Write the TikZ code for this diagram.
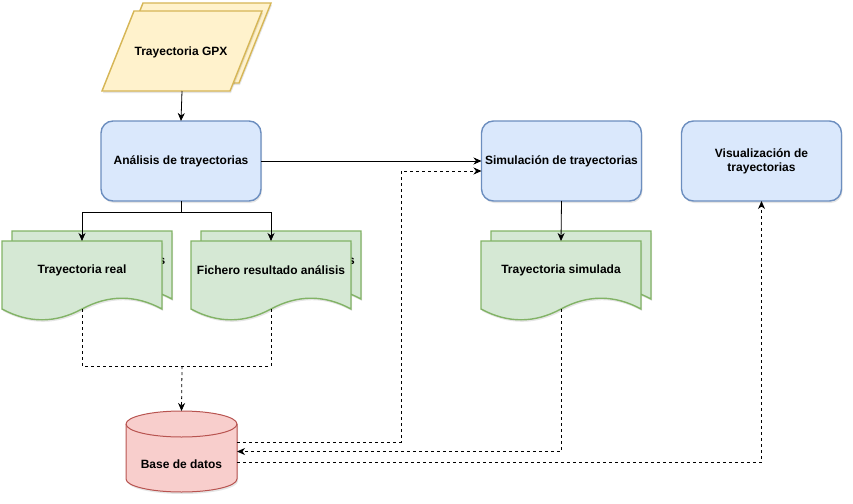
\documentclass[tikz,border=0pt]{standalone}
\usepackage{fontspec}
\setmainfont{Liberation Sans}
\usetikzlibrary{arrows.meta,shadows}
\definecolor{yfill}{HTML}{FFF2CC}
\definecolor{ystroke}{HTML}{D6B656}
\definecolor{bfill}{HTML}{DAE8FC}
\definecolor{bstroke}{HTML}{6C8EBF}
\definecolor{gfill}{HTML}{D5E8D4}
\definecolor{gstroke}{HTML}{82B366}
\definecolor{rfill}{HTML}{F8CECC}
\definecolor{rstroke}{HTML}{B85450}
\tikzset{
  shadowed/.style={drop shadow={shadow xshift=1pt,shadow yshift=-2pt,opacity=0.1,fill=black}},
  boxnode/.style={rectangle, rounded corners=12pt, draw=bstroke, fill=bfill, line width=1.4pt,
    minimum width=160pt, minimum height=80pt, inner sep=0pt, outer sep=0pt,
    font=\bfseries\fontsize{12}{14}\selectfont, align=center, shadowed},
  frame/.style={rectangle, inner sep=0pt, outer sep=0pt, minimum width=160pt, minimum height=80pt},
  lbl/.style={font=\bfseries\fontsize{12}{14}\selectfont, inner sep=0pt, align=center},
  gpxshape/.style={draw=ystroke, fill=yfill, line width=1.4pt, shadowed},
  docshape/.style={draw=gstroke, fill=gfill, line width=1.4pt, shadowed},
  dbshape/.style={draw=rstroke, fill=rfill, line width=1pt, shadowed},
  conn/.style={draw=black, line width=0.8pt},
  arr/.style={-{Stealth[length=8pt,width=7pt,inset=2.5pt]}},
  dsh/.style={dash pattern=on 3pt off 3pt}
}
\newcommand{\docpath}[3]{%
  \path[#3, shift={(#1,#2)}] (0,0) -- (160,0) -- (160,68)
    .. controls (133.33,53.6) and (106.67,53.6) .. (80,68)
    .. controls (53.33,82.4) and (26.67,82.4) .. (0,68) -- cycle;}
\begin{document}
\begin{tikzpicture}[x=1pt,y=-1pt]
\useasboundingbox (0,0) rectangle (853,503);

% ---------- Trayectoria GPX (multi parallelogram)
\path[gpxshape] (143,3) -- (271,3) -- (239,83) -- (111,83) -- cycle;
\path[gpxshape] (134,11) -- (262,11) -- (230,91) -- (102,91) -- cycle;
\node[frame, minimum width=128pt] (gpx) at (182,51) {};
\node[lbl] (gpxtxt) at (181,52) {Trayectoria GPX};

% ---------- process boxes
\node[boxnode] (ana) at (181,161) {Análisis de trayectorias};
\node[boxnode] (sim) at (561.5,161) {Simulación de trayectorias};
\node[boxnode] (vis) at (761.5,161) {Visualización de\\trayectorias};

% ---------- documents
\docpath{12}{231}{docshape}
\node[lbl] (realback) at (162,261) {s};
\docpath{2}{241}{docshape}
\node[frame] (real) at (82,281) {};
\node[lbl] (realtxt) at (82,270) {Trayectoria real};

\docpath{201}{231}{docshape}
\node[lbl] (ficback) at (351.5,261) {s};
\docpath{191}{241}{docshape}
\node[frame] (fic) at (271,281) {};
\node[lbl] (fictxt) at (271,270) {Fichero resultado análisis};

\docpath{491}{231}{docshape}
\docpath{481}{241}{docshape}
\node[frame] (simdoc) at (561,281) {};
\node[lbl] (simdoctxt) at (561,270) {Trayectoria simulada};

% ---------- database cylinder
\path[dbshape] (126,424) -- (126,479)
  arc[start angle=180, end angle=360, x radius=55.5pt, y radius=13pt]
  -- (237,424)
  arc[start angle=0, end angle=180, x radius=55.5pt, y radius=13pt] -- cycle;
\path[draw=rstroke, line width=1pt] (126,424)
  arc[start angle=180, end angle=360, x radius=55.5pt, y radius=13pt];
\node[frame, minimum width=111pt, minimum height=81pt] (db) at (181.5,451.5) {};
\node[lbl] (dbtxt) at (181.5,464) {Base de datos};

% ---------- coordinates for bends
\coordinate (merge) at (182,366);
\coordinate (bend1) at (401,171);

% ---------- solid connectors
\draw[conn, arr] (gpx.south) -- (ana.north);
\draw[conn, arr] (ana.east) -- (sim.west);
\draw[conn, arr] (ana.south) -- ++(0,11) -| (real.north);
\draw[conn, arr] (ana.south) -- ++(0,11) -| (fic.north);
\draw[conn, arr] (sim.south) -- (simdoc.north);

% ---------- dashed connectors
\draw[conn, dsh] ([yshift=12pt]real.south) |- (merge);
\draw[conn, dsh] ([yshift=12pt]fic.south) |- (merge);
\draw[conn, dsh, arr] (merge) -- (db.north);
\draw[conn, dsh, arr] ([yshift=9.5pt]db.east) -| (bend1) -- ([yshift=-10pt]sim.west);
\draw[conn, dsh, arr] ([yshift=12pt]simdoc.south) |- (db.east);
\draw[conn, dsh, arr] ([yshift=-10.5pt]db.east) -| (vis.south);
\end{tikzpicture}
\end{document}
